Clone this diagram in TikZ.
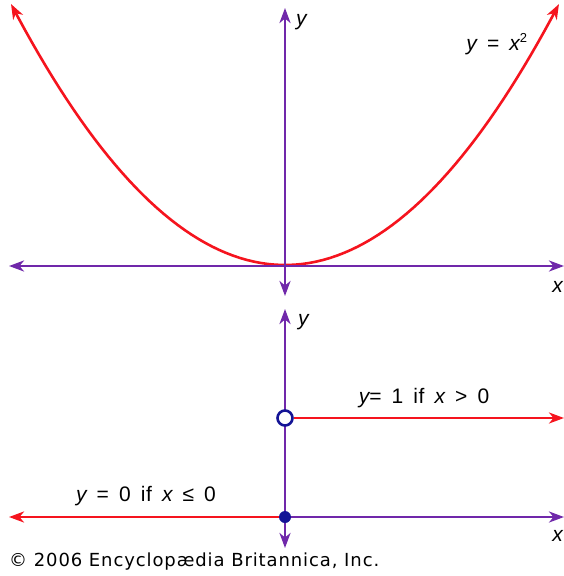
\documentclass[tikz,border=0pt]{standalone}
\usepackage{fontspec}
\setmainfont{Liberation Sans}
\newfontfamily\copyfont[LetterSpace=5]{DejaVu Sans}
\usetikzlibrary{arrows.meta}
\definecolor{axpurple}{RGB}{112,40,170}
\definecolor{curvered}{RGB}{245,20,30}
\definecolor{dotblue}{RGB}{20,20,150}
\tikzset{
  tip/.tip={Stealth[length=15pt,width=11pt,inset=4.5pt]},
  axis/.style={axpurple, line width=2.6pt, -tip},
  axisboth/.style={axpurple, line width=2.6pt, tip-tip},
  redline/.style={curvered, line width=2.6pt, -tip},
  lbl/.style={font=\fontsize{21}{23}\selectfont\addfontfeature{LetterSpace=3}, inner sep=0pt},
}
\newcommand{\gapsp}{\hspace{0.48em}}
\begin{document}
\begin{tikzpicture}[x=1pt,y=-1pt]
\useasboundingbox (0,0) rectangle (564,576);
% top chart
\coordinate (o1) at (285,266);
\coordinate (yt) at (285,8);
\coordinate (yb) at (285,296);
\coordinate (xl) at (9,266);
\coordinate (xr) at (564,266);
\draw[curvered, line width=2.6pt, domain=-1:1, samples=80, tip-tip]
  plot ({285+274*\x},{265-261*\x*\x});
\draw[axisboth] (xl) -- (xr);
\draw[axisboth] (yb) -- (yt);
\node[lbl, anchor=west] (ylab1) at (296,22) {\itshape y};
\node[lbl] (eq1) at (497,44) {\itshape y\upshape\gapsp=\gapsp\itshape x\textsuperscript{\upshape\fontsize{13}{13}\selectfont 2}};
\node[lbl, anchor=east] (xlab1) at (563,287) {\itshape x};
% bottom chart
\coordinate (o2) at (285,517);
\coordinate (yt2) at (285,309);
\coordinate (yb2) at (285,548);
\coordinate (xr2) at (564,517);
\coordinate (xl2) at (9,517);
\coordinate (r1) at (564,418);
\draw[axisboth] (yb2) -- (yt2);
\draw[axis] (o2) -- (xr2);
\draw[redline] (o2) -- (xl2);
\node[circle, draw=dotblue, fill=white, line width=2.6pt, minimum size=15pt, inner sep=0pt] (open) at (285,418) {};
\draw[redline] (open) -- (r1);
\node[circle, fill=dotblue, minimum size=12pt, inner sep=0pt] (closed) at (o2) {};
\node[lbl, anchor=west] (ylab2) at (298,322) {\itshape y};
\node[lbl] (eq2) at (424,398) {\itshape y\upshape=\gapsp1\gapsp if\gapsp\itshape x\upshape\gapsp>\gapsp0};
\node[lbl] (eq3) at (146,496) {\itshape y\upshape\gapsp=\gapsp0\gapsp if\gapsp\itshape x\upshape\gapsp≤\gapsp0};
\node[lbl, anchor=east] (xlab2) at (563,536) {\itshape x};
\node[anchor=west, inner sep=0pt, font=\copyfont\fontsize{18}{20}\selectfont] (copy) at (9,562) {© 2006 Encyclopædia Britannica, Inc.};
\end{tikzpicture}
\end{document}
